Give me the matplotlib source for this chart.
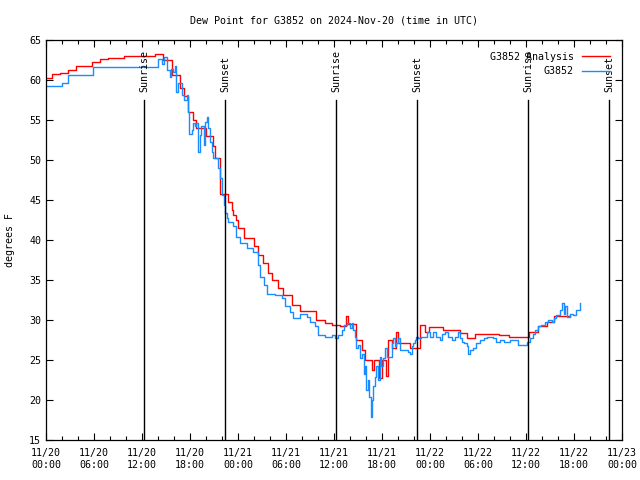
"""
Dew point at G3852, analysis vs station, 2024-11-20 .. 2024-11-23 (UTC)
"""

import matplotlib
matplotlib.use('Agg')
from matplotlib import pyplot as plt
from matplotlib.ticker import MultipleLocator

# hours since 2024-11-20 00:00 UTC
analysis_h = [0, 0.7, 1.75, 2.8, 3.8, 5.7, 6.75, 7.8, 8.8, 9.75, 13.6, 14.6, 15.7, 16.75,
              17.2, 17.8, 18.4, 18.8, 20.0, 20.9, 21.1, 21.75, 22.7, 23.2, 23.4, 23.7, 24.0,
              24.8, 26.0, 26.5, 27.1, 27.75, 28.2, 29.0, 29.6, 30.75, 31.75, 33.8, 34.9, 35.7,
              36.75, 37.5, 37.8, 38.75, 38.8, 39.5, 39.9, 40.7, 41.0, 41.6, 42.0, 42.5, 42.8,
              43.2, 43.75, 44.0, 45.5, 46.75, 47.4, 47.9, 49.6, 51.75, 52.6, 53.6, 56.6, 57.9,
              60.4, 61.5, 62.6, 63.5, 65.5]
analysis_v = [60.3, 60.8, 60.9, 61.25, 61.75, 62.25, 62.6, 62.8, 62.75, 62.95, 63.2, 62.5, 60.6, 59.0,
              58.0, 56.0, 55.0, 54.0, 53.0, 51.7, 50.2, 45.7, 44.8, 43.75, 43.1, 42.5, 41.5,
              40.2, 39.2, 38.1, 37.1, 35.9, 35.0, 34.0, 33.1, 31.9, 31.1, 30.0, 29.6, 29.4,
              29.2, 30.5, 29.5, 29.0, 27.5, 26.25, 25.0, 23.75, 25.0, 22.7, 25.0, 23.0, 27.5,
              26.5, 28.5, 27.1, 26.5, 29.4, 28.5, 29.1, 28.8, 28.4, 27.7, 28.25, 28.1, 27.9,
              28.5, 29.2, 29.8, 30.5, 30.5]

station_h = [0, 2.0, 2.8, 5.9, 12.0, 12.3, 14.0, 14.5, 14.7, 15.1, 15.5, 15.6, 15.9, 16.1, 16.3,
             16.5, 17.0, 17.2, 17.6, 17.8, 17.9, 18.2, 18.4, 18.6, 18.8, 19.0, 19.2, 19.4, 19.7,
             19.9, 20.1, 20.3, 20.5, 20.7, 20.9, 21.5, 21.7, 22.0, 22.2, 22.4, 22.6, 22.8, 23.4,
             23.8, 24.25, 25.1, 25.9, 26.5, 26.75, 27.2, 27.6, 28.6, 29.5, 29.9, 30.5, 30.9,
             31.75, 32.6, 33.0, 33.6, 34.0, 34.9, 35.7, 36.1, 36.5, 37.0, 37.2, 37.6, 38.0,
             38.2, 38.4, 38.6, 38.8, 39.0, 39.25, 39.5, 39.7, 39.9, 40.0, 40.2, 40.4, 40.6,
             40.8, 40.9, 41.1, 41.3, 41.5, 41.75, 41.9, 42.1, 42.4, 42.6, 43.2, 43.4, 43.6,
             43.8, 44.0, 44.25, 44.9, 45.3, 45.5, 45.7, 45.9, 46.1, 46.3, 46.5, 46.9, 47.3,
             47.6, 48.0, 48.4, 48.8, 49.25, 49.5, 49.9, 50.3, 50.7, 51.1, 51.5, 51.75, 52.0,
             52.2, 52.6, 52.8, 53.0, 53.4, 53.8, 54.25, 54.7, 55.1, 55.9, 56.3, 56.75, 57.2,
             58.0, 59.0, 59.9, 60.1, 60.5, 60.9, 61.1, 61.5, 61.9, 62.4, 62.8, 63.2, 63.5,
             63.8, 64.25, 64.5, 64.7, 64.9, 65.1, 65.5, 65.9, 66.3, 66.7]
station_v = [59.3, 59.6, 60.6, 61.6, 61.8, 61.6, 62.6, 62.0, 62.9, 61.3, 60.4, 61.4, 61.0, 61.7, 58.5,
             59.6, 58.1, 57.5, 58.1, 56.0, 53.3, 53.75, 54.6, 54.2, 54.6, 51.0, 53.1, 54.2, 51.9,
             54.8, 55.4, 54.0, 52.3, 51.0, 50.2, 49.0, 47.7, 45.6, 44.4, 43.4, 42.7, 42.3, 41.7,
             40.4, 39.6, 39.0, 38.5, 36.9, 35.4, 34.4, 33.3, 33.1, 32.7, 31.7, 31.0, 30.2,
             30.8, 30.4, 29.8, 29.2, 28.1, 27.9, 28.1, 27.7, 28.1, 28.75, 29.4, 29.6, 29.0,
             29.6, 28.75, 27.9, 26.5, 26.9, 25.2, 25.8, 23.3, 24.2, 21.25, 22.5, 20.4, 17.9,
             20.0, 21.7, 22.9, 24.2, 22.5, 25.4, 24.2, 25.2, 26.5, 25.4, 27.1, 27.7, 26.7,
             27.1, 27.7, 26.25, 26.25, 26.0, 25.8, 26.7, 27.1, 27.5, 27.9, 27.7, 27.9, 27.9,
             28.5, 27.9, 28.5, 27.9, 27.5, 28.3, 28.5, 27.9, 27.5, 27.9, 28.5, 27.7, 27.3,
             27.1, 26.7, 25.8, 26.25, 26.5, 27.1, 27.5, 27.7, 27.9, 27.7, 27.3, 27.5, 27.3,
             27.5, 26.9, 26.9, 27.3, 27.7, 28.3, 28.75, 29.2, 29.4, 29.8, 30.0, 29.8, 30.2,
             30.6, 31.25, 32.1, 30.8, 31.7, 30.4, 30.8, 30.6, 31.25, 32.1]

sun_h = [12.3, 22.4, 36.25, 46.4, 60.25, 70.4]
sun_names = ['Sunrise', 'Sunset', 'Sunrise', 'Sunset', 'Sunrise', 'Sunset']

xtick_h = list(range(0, 73, 6))
xtick_labels = ['11/20\n00:00', '11/20\n06:00', '11/20\n12:00', '11/20\n18:00',
                '11/21\n00:00', '11/21\n06:00', '11/21\n12:00', '11/21\n18:00',
                '11/22\n00:00', '11/22\n06:00', '11/22\n12:00', '11/22\n18:00',
                '11/23\n00:00']

plt.rcParams['font.family'] = 'DejaVu Sans Mono'
plt.rcParams['font.size'] = 7.2

fig = plt.figure(figsize=(6.4, 4.8), dpi=100)
ax = fig.add_axes([46 / 640, 40 / 480, 576 / 640, 400 / 480])

ax.plot(analysis_h, analysis_v, color='#ff0000', lw=1.0, drawstyle='steps-post', label='G3852 Analysis')
ax.plot(station_h, station_v, color='#1a8cff', lw=1.0, drawstyle='steps-post', label='G3852')

for h, name in zip(sun_h, sun_names):
    ax.plot([h, h], [15, 57.5], color='black', lw=1.0)
    ax.text(h, 58.5, name, rotation=90, ha='center', va='bottom')

ax.set_xlim(0, 72)
ax.set_ylim(15, 65)
ax.set_xticks(xtick_h)
ax.set_xticklabels(xtick_labels)
ax.xaxis.set_minor_locator(MultipleLocator(2))
ax.yaxis.set_major_locator(MultipleLocator(5))
ax.tick_params(which='both', direction='in', top=True, right=True, width=0.8)
ax.tick_params(which='major', length=5)
ax.tick_params(which='minor', length=3)
ax.tick_params(axis='x', pad=6)
for s in ax.spines.values():
    s.set_linewidth(0.9)

ax.set_ylabel('degrees F', labelpad=10)
ax.set_title('Dew Point for G3852 on 2024-Nov-20 (time in UTC)', fontsize=7.2, pad=12)

leg = ax.legend(loc='upper right', frameon=False, markerfirst=False, handlelength=2.8,
                borderaxespad=0.8, labelspacing=0.45, handletextpad=0.8)

fig.savefig('out.png', dpi=100)
